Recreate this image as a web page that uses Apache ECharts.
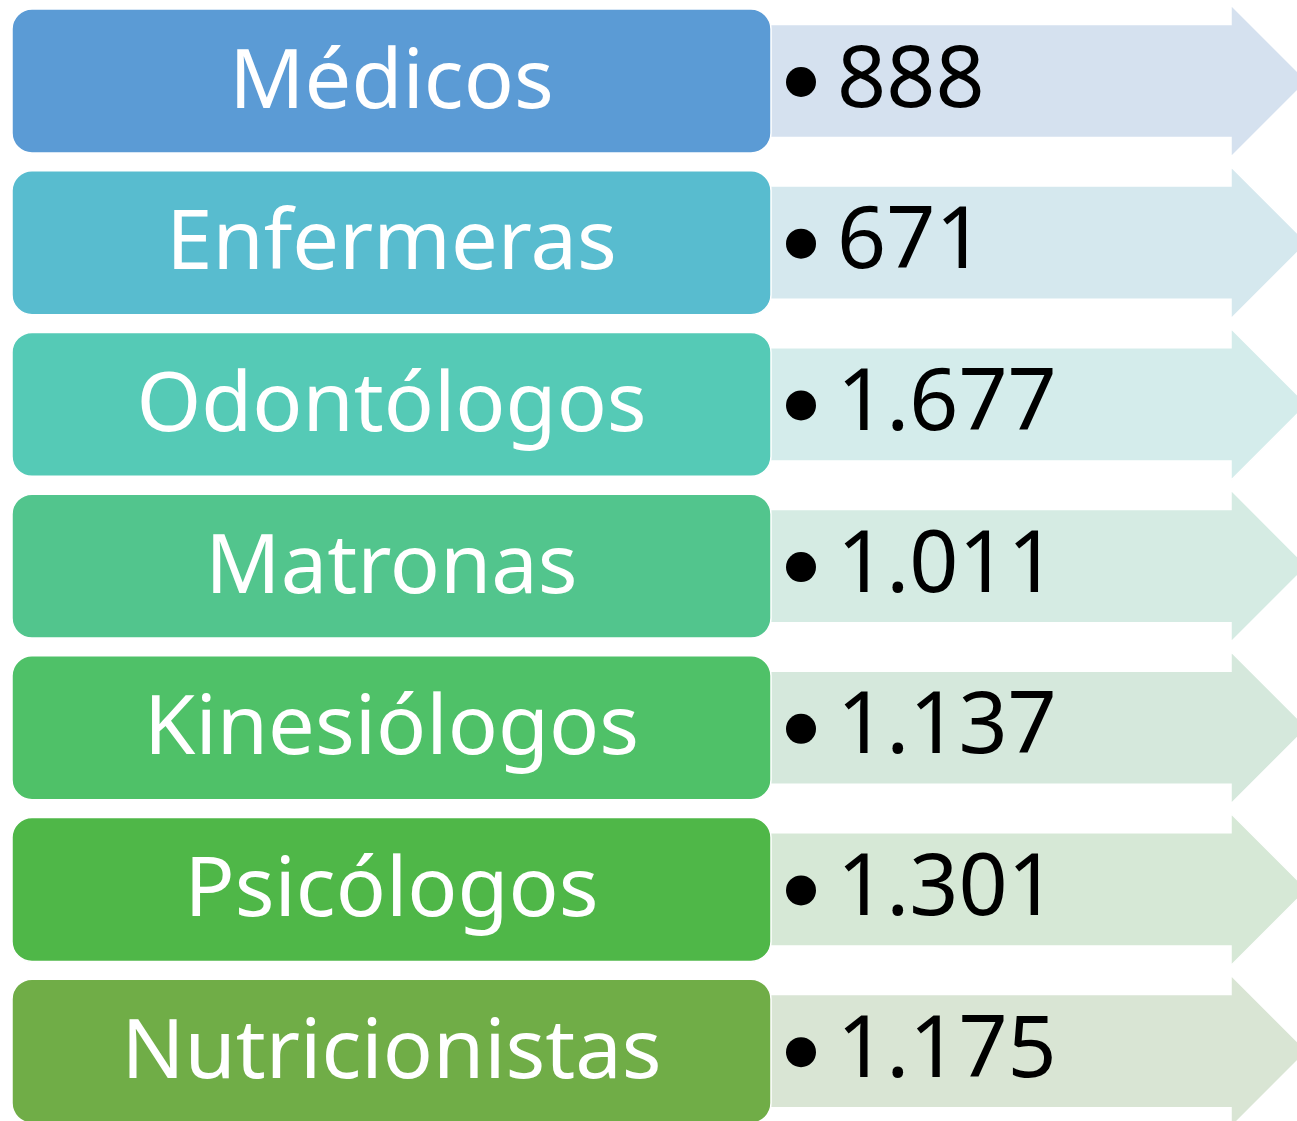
<!DOCTYPE html>
<html lang="es">
<head>
    <meta charset="UTF-8">
    <title>Profesionales</title>
    <script src="https://cdn.jsdelivr.net/npm/echarts@6/dist/echarts.min.js"></script>
    <style>
        html, body { margin: 0; padding: 0; background: #fff; }
        #main { width: 1297px; height: 1121px; }
    </style>
</head>
<body>
<div id="main"></div>

<script>
    // datos
    var categorias = ['Médicos', 'Enfermeras', 'Odontólogos', 'Matronas', 'Kinesiólogos', 'Psicólogos', 'Nutricionistas'];
    var valores = [888, 671, 1677, 1011, 1137, 1301, 1175];
    var coloresCaja = ['#5B9BD5', '#58BCCF', '#55CAB6', '#52C58D', '#4FC168', '#4FB748', '#70AD47'];
    var coloresFlecha = ['#D5E1EF', '#D5E8EE', '#D4ECEB', '#D5EBE3', '#D5E8DC', '#D6E8D6', '#D9E5D4'];

    var fuente = '"Noto Sans", sans-serif';

    function formato(n) {
        return String(n).replace(/\B(?=(\d{3})+(?!\d))/g, '.');
    }

    var myChart = echarts.init(document.getElementById('main'));

    function renderItem(params, api) {
        var i = params.dataIndex;
        var fila = api.value(1);
        var cy = api.coord([0, fila])[1];
        var banda = api.size([0, 1])[1];
        var X = function (v) { return api.coord([v, fila])[0]; };

        var cuerpo = banda * 0.35;
        var punta = banda * 0.47;

        var flecha = {
            type: 'polygon',
            shape: {
                points: [
                    [X(760), cy - cuerpo], [X(1231), cy - cuerpo], [X(1231), cy - punta],
                    [X(1231) + punta, cy], [X(1231), cy + punta], [X(1231), cy + cuerpo],
                    [X(760), cy + cuerpo]
                ]
            },
            style: { fill: coloresFlecha[i], stroke: '#fff', lineWidth: 1.5 }
        };

        var alto = banda * 0.89;
        var caja = {
            type: 'rect',
            shape: { x: X(12), y: cy - alto / 2, width: X(771) - X(12), height: alto, r: 20 },
            style: { fill: coloresCaja[i], stroke: '#fff', lineWidth: 1.5 }
        };

        var etiqueta = {
            type: 'text',
            x: (X(12) + X(771)) / 2,
            y: cy + 3,
            style: {
                text: categorias[i],
                fill: '#fff',
                font: '83px ' + fuente,
                align: 'center',
                verticalAlign: 'middle'
            }
        };

        var vineta = {
            type: 'circle',
            shape: { cx: X(801), cy: cy + 1, r: 15 },
            style: { fill: '#000' }
        };

        var valor = {
            type: 'text',
            x: X(837),
            y: cy + 1,
            style: {
                text: formato(valores[i]),
                fill: '#000',
                font: '86px ' + fuente,
                align: 'left',
                verticalAlign: 'middle'
            }
        };

        return { type: 'group', children: [flecha, caja, etiqueta, vineta, valor] };
    }

    var option = {
        animation: false,
        grid: { left: 0, right: 0, top: 0, bottom: 0 },
        xAxis: { type: 'value', min: 0, max: 1297, show: false },
        yAxis: { type: 'value', min: -0.501, max: 6.432, inverse: true, show: false },
        series: [
            {
                type: 'custom',
                clip: false,
                renderItem: renderItem,
                encode: { x: 0, y: 1 },
                data: categorias.map(function (c, i) { return [0, i]; })
            }
        ]
    };

    myChart.setOption(option);
</script>
</body>
</html>
